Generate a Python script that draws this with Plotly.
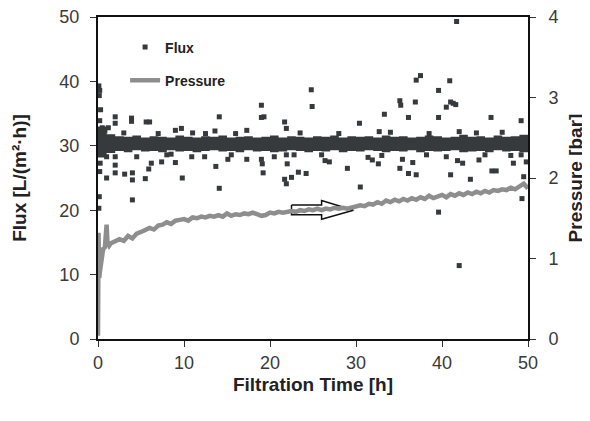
import plotly.graph_objects as go

# ---------------- data ----------------
# dense flux band (upper / lower edge, L/(m2 h)) sampled each hour
band_time = [0, 1, 2, 3, 4, 5, 6, 7, 8, 9, 10, 11, 12, 13, 14, 15, 16, 17, 18, 19, 20,
             21, 22, 23, 24, 25, 26, 27, 28, 29, 30, 31, 32, 33, 34, 35, 36, 37, 38, 39, 40,
             41, 42, 43, 44, 45, 46, 47, 48, 49, 50]
band_hi = [33.0, 31.8, 31.5, 31.4, 31.6, 31.3, 31.5, 31.4, 31.3, 31.6, 31.4, 31.3, 31.5, 31.4,
           31.6, 31.3, 31.4, 31.5, 31.3, 31.4, 31.6, 31.3, 31.5, 31.4, 31.3, 31.5, 31.4, 31.6,
           31.3, 31.5, 31.4, 31.5, 31.3, 31.6, 31.4, 31.5, 31.3, 31.4, 31.6, 31.5, 31.3, 31.4,
           31.7, 31.4, 31.5, 31.3, 31.6, 31.4, 31.5, 31.7, 31.6]
band_lo = [28.2, 28.9, 29.2, 29.0, 29.3, 29.1, 29.2, 29.0, 29.3, 29.1, 29.2, 29.0, 29.2, 29.3,
           29.1, 29.2, 29.0, 29.3, 29.1, 29.2, 29.0, 29.1, 29.3, 29.2, 29.0, 29.2, 29.1, 29.3,
           29.0, 29.2, 29.1, 29.3, 29.2, 29.0, 29.2, 29.1, 29.3, 29.0, 29.2, 29.1, 29.2, 29.3,
           29.0, 29.1, 29.2, 29.0, 29.3, 29.1, 29.2, 29.0, 28.9]

# scattered flux readings outside the band
flux_time = [0.1, 0.2, 0.15, 0.3, 0.2, 0.25, 0.2, 0.15, 0.1, 0.5, 1.2, 1.0, 1.0, 2.0, 2.0, 2.0,
             2.0, 2.0, 3.1, 3.9, 3.9, 4.0, 4.0, 4.0, 4.5, 5.6, 6.0, 5.5, 5.9, 6.2, 7.4, 8.0,
             9.0, 9.0, 9.7, 9.8, 10.9, 12.4, 13.6, 13.7, 14.1, 14.1, 15.1, 17.3, 17.3, 19.0,
             19.0, 19.3, 19.0, 19.1, 19.2, 20.5, 21.7, 21.9, 21.9, 22.0, 22.8, 21.7, 21.9, 22.5,
             23.3, 24.2, 24.8, 24.9, 26.4, 26.9, 29.0, 30.4, 30.5, 31.4, 31.9, 32.6, 32.7, 33.3,
             35.1, 35.2, 35.1, 35.4, 36.1, 36.1, 36.6, 36.9, 37.0, 37.5, 37.0, 38.2, 39.6, 39.6,
             39.6, 40.5, 40.5, 40.9, 41.0, 41.3, 41.6, 41.0, 41.7, 41.8, 42.4, 42.0, 42.0, 43.3,
             44.3, 45.7, 45.8, 46.3, 48.0, 48.3, 49.2, 49.2, 49.5, 49.8, 49.3,
             0.8, 3.0, 7.0, 11.0, 12.5, 16.0, 23.5, 28.0, 34.0, 38.5, 44.0, 47.0,
             8.5, 15.5, 26.0, 33.0, 45.0]
flux_val = [39.3, 38.6, 37.8, 35.6, 33.9, 27.3, 26.0, 22.1, 20.3, 32.8, 32.8, 28.3, 25.0, 34.5,
            33.5, 28.3, 27.0, 25.8, 25.6, 34.3, 33.8, 25.8, 24.7, 21.6, 28.3, 33.7, 33.7, 24.9,
            26.4, 27.3, 27.5, 28.6, 27.4, 32.4, 32.7, 25.0, 28.3, 28.3, 32.3, 26.8, 34.5, 23.4,
            27.9, 27.9, 32.4, 36.3, 34.4, 34.5, 27.9, 27.2, 25.8, 28.3, 33.7, 32.7, 28.6, 27.2,
            28.6, 24.8, 24.1, 25.1, 25.9, 25.7, 38.7, 36.1, 27.7, 27.5, 26.5, 33.5, 23.6, 28.2,
            27.8, 27.2, 32.2, 34.9, 37.0, 36.3, 26.5, 27.9, 34.4, 25.7, 27.4, 36.8, 40.2, 40.9,
            25.5, 28.6, 38.6, 34.4, 19.7, 36.0, 28.3, 40.1, 36.8, 36.6, 36.4, 25.5, 49.3, 27.7,
            27.3, 32.2, 11.4, 24.8, 27.8, 34.4, 26.1, 26.1, 28.5, 27.3, 33.9, 28.6, 25.2, 27.5,
            21.8,
            32.3, 32.0, 31.9, 32.0, 31.9, 31.9, 32.0, 31.9, 32.1, 31.9, 32.0, 32.1,
            28.7, 28.6, 28.6, 28.5, 28.6]

# transmembrane pressure (bar)
p_time = [0, 0.03, 0.06, 0.1, 0.15, 0.2, 0.3, 0.45, 0.6, 0.8, 1.0, 1.1, 1.3,
          1.5, 2.0, 2.5, 3.0, 3.5, 4.0, 4.5, 5.0, 5.5, 6.0, 6.5, 7.0, 7.5, 8.0, 8.5, 9.0,
          9.5, 10.0, 10.5, 11.0, 11.5, 12.0, 12.5, 13.0, 13.5, 14.0, 14.5, 15.0, 15.5, 16.0,
          16.5, 17.0, 17.5, 18.0, 18.5, 19.0, 19.5, 20.0, 20.5, 21.0, 21.5, 22.0, 22.5, 23.0,
          23.5, 24.0, 24.5, 25.0, 25.5, 26.0, 26.5, 27.0, 27.5, 28.0, 28.5, 29.0, 29.5, 30.0,
          30.5, 31.0, 31.5, 32.0, 32.5, 33.0, 33.5, 34.0, 34.5, 35.0, 35.5, 36.0, 36.5, 37.0,
          37.5, 38.0, 38.5, 39.0, 39.5, 40.0, 40.5, 41.0, 41.5, 42.0, 42.5, 43.0, 43.5, 44.0,
          44.5, 45.0, 45.5, 46.0, 46.5, 47.0, 47.5, 48.0, 48.5, 49.0, 49.5, 50.0]
p_val = [0.04, 0.64, 1.32, 0.96, 0.76, 0.82, 0.92, 1.04, 1.12, 1.14, 1.42, 1.20, 1.16,
         1.19, 1.21, 1.24, 1.22, 1.28, 1.25, 1.31, 1.33, 1.36, 1.38, 1.36, 1.41, 1.42, 1.45,
         1.43, 1.47, 1.48, 1.49, 1.47, 1.51, 1.50, 1.52, 1.51, 1.53, 1.52, 1.54, 1.52, 1.56,
         1.53, 1.55, 1.54, 1.56, 1.55, 1.57, 1.55, 1.53, 1.54, 1.57, 1.56, 1.58, 1.57, 1.58,
         1.59, 1.58, 1.60, 1.59, 1.61, 1.60, 1.62, 1.60, 1.62, 1.61, 1.63, 1.62, 1.63, 1.62,
         1.63, 1.64, 1.66, 1.65, 1.68, 1.67, 1.70, 1.68, 1.72, 1.70, 1.73, 1.71, 1.74, 1.72,
         1.75, 1.73, 1.76, 1.74, 1.78, 1.75, 1.77, 1.79, 1.76, 1.80, 1.78, 1.81, 1.79, 1.82,
         1.80, 1.83, 1.81, 1.84, 1.82, 1.85, 1.84, 1.86, 1.85, 1.88, 1.86, 1.90, 1.93, 1.87]

# block arrow annotation (time h, flux units)
arrow_x = [22.5, 26.0, 26.0, 29.7, 26.0, 26.0, 22.5, 22.5]
arrow_y = [20.8, 20.8, 21.5, 20.0, 18.6, 19.3, 19.3, 20.8]

x_ticks = [0, 10, 20, 30, 40, 50]
flux_ticks = [0, 10, 20, 30, 40, 50]
p_ticks = [0, 1, 2, 3, 4]

# ---------------- figure ----------------
DARK = "#363a3c"
GRAY = "#8e8e8e"
FONT = "Liberation Sans, Arial, sans-serif"

fig = go.Figure()

fig.add_trace(go.Scatter(x=band_time, y=band_lo, mode="lines", line=dict(width=0, shape="hv"),
                         showlegend=False, hoverinfo="skip"))
fig.add_trace(go.Scatter(x=band_time, y=band_hi, mode="lines", line=dict(width=0, shape="hv"),
                         fill="tonexty", fillcolor=DARK, showlegend=False, hoverinfo="skip"))

fig.add_trace(go.Scatter(x=flux_time, y=flux_val, mode="markers", name="<b>Flux</b>",
                         marker=dict(symbol="square", size=5, color=DARK), legendgroup="f"))

fig.add_trace(go.Scatter(x=p_time, y=p_val, mode="lines", name="<b>Pressure</b>", yaxis="y2",
                         line=dict(color=GRAY, width=4.5), legendgroup="p"))

fig.add_trace(go.Scatter(x=arrow_x, y=arrow_y, mode="lines", fill="toself",
                         fillcolor="rgba(0,0,0,0)", line=dict(color="#111111", width=1.5),
                         showlegend=False, hoverinfo="skip"))

axis_common = dict(showline=True, linecolor="#111111", linewidth=2, ticks="outside",
                   ticklen=6, tickwidth=1, tickcolor="#333333", showgrid=False, zeroline=False,
                   ticklabeloverflow="allow",
                   tickfont=dict(family=FONT, size=18, color="#3a3a3a"))

fig.update_layout(
    width=582, height=413,
    margin=dict(l=90, r=62, t=9, b=82, autoexpand=False),
    paper_bgcolor="white", plot_bgcolor="white",
    font=dict(family=FONT, color="#222222"),
    xaxis=dict(range=[0, 50], tickvals=x_ticks, mirror=True, ticklabelstandoff=0,
               title=dict(text="<b>Filtration Time [h]</b>", font=dict(family=FONT, size=19),
                          standoff=6),
               **axis_common),
    yaxis=dict(range=[0, 50], tickvals=flux_ticks, ticklabelstandoff=7,
               title=dict(text="<b>Flux [L/(m²·h)]</b>", font=dict(family=FONT, size=19),
                          standoff=28),
               **axis_common),
    yaxis2=dict(range=[0, 4], tickvals=p_ticks, overlaying="y", side="right",
                ticklabelstandoff=9,
                title=dict(text="<b>Pressure [bar]</b>", font=dict(family=FONT, size=19),
                           standoff=11),
                **axis_common),
    legend=dict(x=0.063, y=0.955, xanchor="left", yanchor="top", bgcolor="rgba(0,0,0,0)",
                font=dict(family=FONT, size=14, color="#222222"), traceorder="grouped",
                tracegroupgap=12),
)

fig.write_html("out.html")
